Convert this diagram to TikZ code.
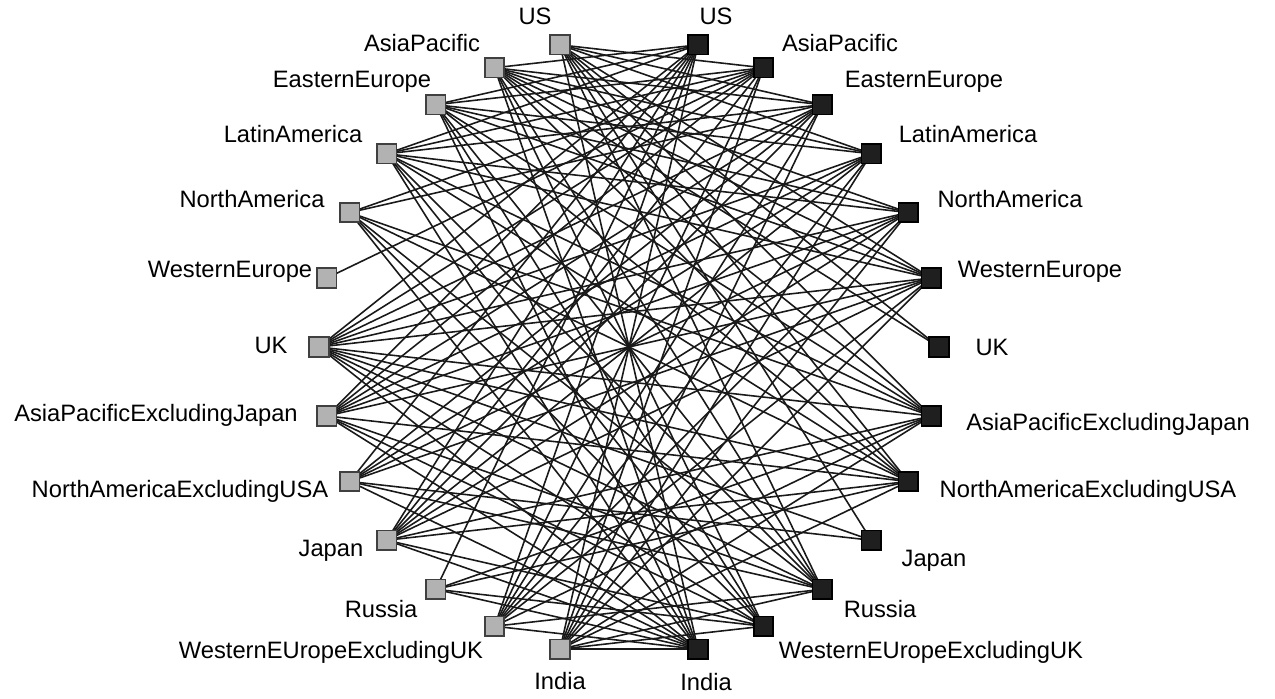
\documentclass[tikz,border=0pt]{standalone}
\usepackage{fontspec}
\setmainfont{Liberation Sans}
\usetikzlibrary{calc}
\pgfdeclarelayer{background}
\pgfsetlayers{background,main}

\begin{document}
\begin{tikzpicture}[x=0.02cm,y=-0.02cm,
    region/.style={rectangle,draw,line width=1pt,minimum size=0.39cm,inner sep=0pt},
    srcbox/.style={region,fill=gray!60,draw=black!75},
    tgtbox/.style={region,fill=black!88,draw=black},
    lbl/.style={font={\fontsize{13.5}{16}\selectfont},inner sep=0pt,text height=10pt,text depth=3pt},
    link/.style={line width=0.9pt,black!90}]
    \useasboundingbox (0,0) rectangle (1275,698);
    \coordinate (c) at (629,347);

    % regions of the two ontologies on a circle
    \foreach \k in {1,...,13} {
        \node[srcbox] (g\k) at ($(c)+({90+12.857*\k}:6.2cm)$) {};
        \node[tgtbox] (b\k) at ($(c)+({90-12.857*\k}:6.2cm)$) {};
    }

    % left labels
    \foreach \k/\x/\y/\name in {1/535/18/US, 2/422/45/AsiaPacific, 3/352/81/EasternEurope,
        4/293/136/LatinAmerica, 5/252/201/NorthAmerica, 6/230/271/WesternEurope, 7/271/347/UK,
        8/156/415/AsiaPacificExcludingJapan, 9/180/491/NorthAmericaExcludingUSA, 10/331/550/Japan,
        11/381/611/Russia, 12/331/652/WesternEUropeExcludingUK, 13/560/683/India}
        \node[lbl] (lg\k) at (\x,\y) {\name};

    % right labels
    \foreach \k/\x/\y/\name in {1/716/18/US, 2/840/45/AsiaPacific, 3/924/81/EasternEurope,
        4/968/136/LatinAmerica, 5/1010/201/NorthAmerica, 6/1040/271/WesternEurope, 7/992/349/UK,
        8/1108/424/AsiaPacificExcludingJapan, 9/1088/491/NorthAmericaExcludingUSA, 10/934/560/Japan,
        11/880/611/Russia, 12/931/652/WesternEUropeExcludingUK, 13/706/684/India}
        \node[lbl] (lb\k) at (\x,\y) {\name};

    % mappings
    \begin{pgfonlayer}{background}
        \foreach \s/\targets in {1/{2,3,4,6,7,8,9,10,11,13}, 2/{1,3,4,5,6,7,8,9,11,12,13},
            3/{1,2,4,5,6,8,9,11,12,13}, 4/{1,2,3,5,6,8,9,11,12,13}, 5/{2,3,8,9,11,12,13}, 6/{2},
            7/{1,2,3,4,5,6,8,9,10,11,12,13}, 8/{1,2,3,4,5,6,9,11,12,13}, 9/{1,3,4,5,6,10,11,13},
            10/{1,2,3,4,5,6,8,9,12,13}, 11/{1,8,9,12,13}, 12/{1,2,3,4,5,6,8,11,13},
            13/{1,2,3,4,5,6,8,9,11,12,13}}
            \foreach \t in \targets
                \draw[link] (g\s.center) -- (b\t.center);
    \end{pgfonlayer}
\end{tikzpicture}
\end{document}
